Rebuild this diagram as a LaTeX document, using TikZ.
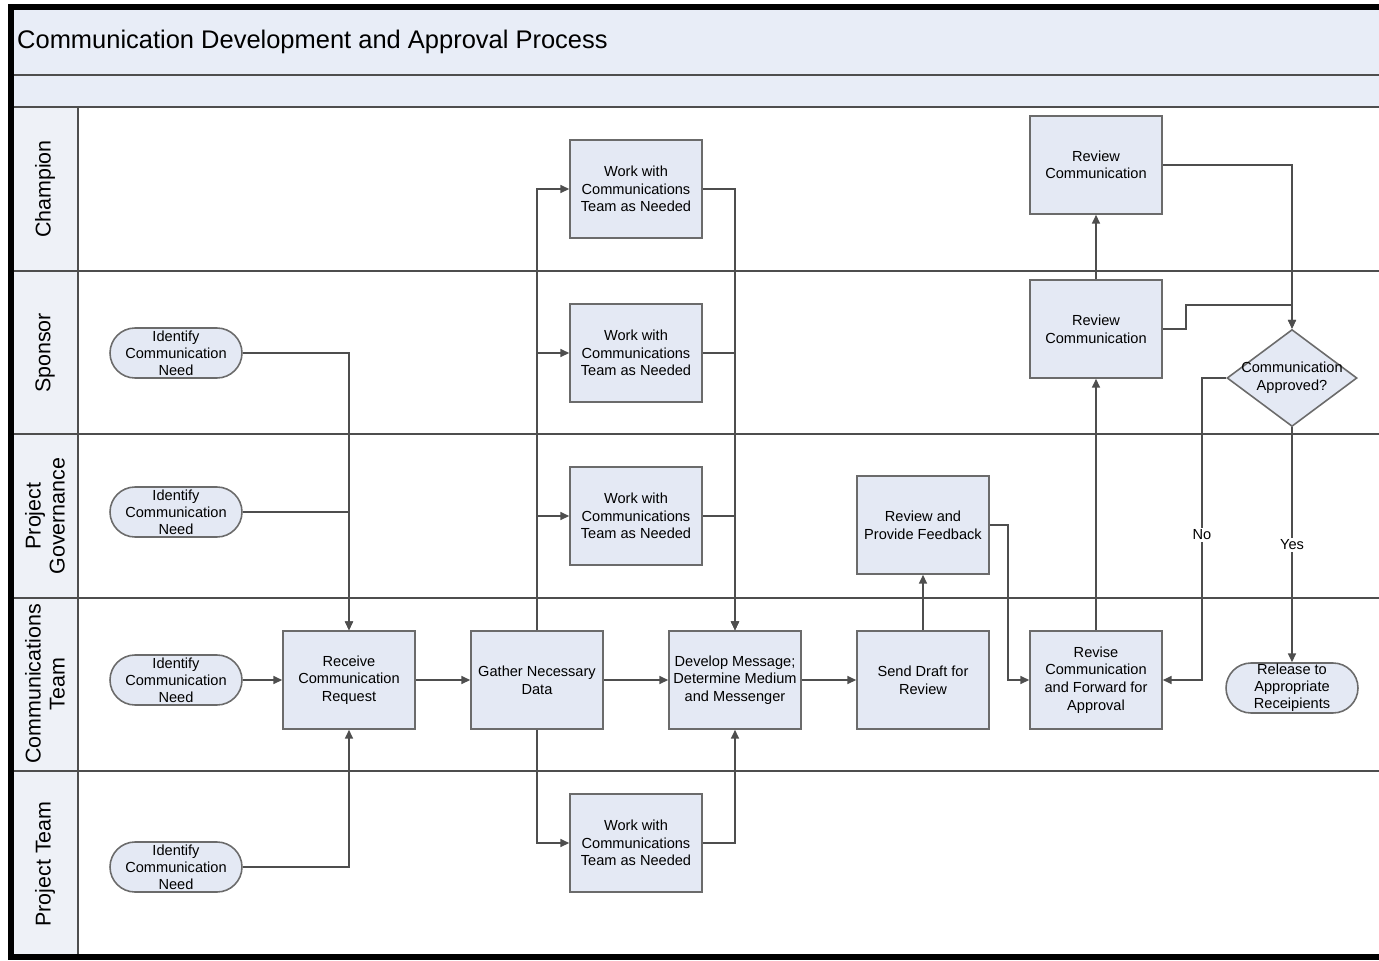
\documentclass[tikz,border=0pt]{standalone}
\usepackage{fontspec}
\setmainfont{Liberation Sans}
\usepackage{xcolor}
\usetikzlibrary{shapes.geometric,arrows.meta}

\definecolor{bandblue}{HTML}{E8EDF7}
\definecolor{boxblue}{HTML}{E4E9F4}
\definecolor{headgray}{HTML}{EEF1F7}
\definecolor{lanegray}{HTML}{4E4E4E}
\definecolor{edgegray}{HTML}{6B6B6B}

\begin{document}
\begin{tikzpicture}[x=0.02cm,y=-0.02cm,
  task/.style={draw=edgegray,fill=boxblue,line width=0.9pt,minimum width=2.64cm,
    minimum height=1.96cm,inner sep=1pt,align=center,font=\fontsize{8.3}{10}\selectfont},
  term/.style={draw=edgegray,fill=boxblue,line width=0.9pt,rounded corners=0.5cm,
    minimum width=2.64cm,minimum height=1cm,inner sep=0pt,align=center,
    font=\fontsize{8.3}{9.7}\selectfont},
  decision/.style={diamond,draw=edgegray,fill=boxblue,line width=0.9pt,
    minimum width=2.6cm,minimum height=1.94cm,inner sep=0pt},
  flow/.style={draw=lanegray,line width=0.9pt,-{Triangle[length=5pt,width=4.5pt]}},
  lane/.style={rotate=90,align=center,font=\fontsize{12.2}{13.6}\selectfont},
  tag/.style={fill=white,inner sep=1pt,font=\fontsize{8.3}{10}\selectfont}
]
  \useasboundingbox (0,0) rectangle (1379,960);

  \fill[bandblue] (13,9) rectangle (1379,107);
  \fill[headgray] (13,107) rectangle (78,957);
  \draw[lanegray,line width=1.4pt] (13,75) -- (1379,75);
  \draw[lanegray,line width=1.3pt] (13,107) -- (1379,107);
  \foreach \y in {271,434,598,771}
    \draw[lanegray,line width=1.3pt] (13,\y) -- (1379,\y);
  \draw[lanegray,line width=1.3pt] (78,107) -- (78,957);
  \draw[black,line width=3pt] (1379,7) -- (11,7) -- (11,957) -- (1379,957);

  \node[anchor=west,font=\fontsize{14.5}{16}\selectfont] (title) at (11,42)
    {Communication Development and Approval Process};

  \node[lane] (lch) at (45,189) {Champion};
  \node[lane] (lsp) at (45,353) {Sponsor};
  \node[lane] (lgv) at (45,516) {Project\\Governance};
  \node[lane] (lct) at (45,684) {Communications\\Team};
  \node[lane] (lpt) at (45,864) {Project Team};

  \node[term] (sid) at (176,353) {Identify\\Communication\\Need};
  \node[term] (gid) at (176,512) {Identify\\Communication\\Need};
  \node[term] (cid) at (176,680) {Identify\\Communication\\Need};
  \node[term] (pid) at (176,867) {Identify\\Communication\\Need};

  \node[task] (recv) at (349,680) {Receive\\Communication\\Request};
  \node[task] (gather) at (537,680) {Gather Necessary\\Data};
  \node[task] (develop) at (735,680) {Develop Message;\\Determine Medium\\and Messenger};
  \node[task] (wch) at (636,189) {Work with\\Communications\\Team as Needed};
  \node[task] (wsp) at (636,353) {Work with\\Communications\\Team as Needed};
  \node[task] (wgv) at (636,516) {Work with\\Communications\\Team as Needed};
  \node[task] (wpt) at (636,843) {Work with\\Communications\\Team as Needed};
  \node[task] (senddraft) at (923,680) {Send Draft for\\Review};
  \node[task] (feedback) at (923,525) {Review and\\Provide Feedback};
  \node[task] (revise) at (1096,680) {Revise\\Communication\\and Forward for\\Approval};
  \node[task] (revsp) at (1096,329) {Review\\Communication};
  \node[task] (revch) at (1096,165) {Review\\Communication};
  \node[decision,label={[align=center,font=\fontsize{8.3}{10}\selectfont]center:Communication\\Approved?}]
    (approved) at (1292,378) {};
  \node[term] (release) at (1292,688) {Release to\\Appropriate\\Receipients};

  \coordinate (fbturn) at (1008,525);
  \coordinate (spjog) at (1186,305);
  \coordinate (noturn) at (1202,378);

  \draw[flow] (sid.east) -| (recv.north);
  \draw[flow] (gid.east) -| (recv.north);
  \draw[flow] (cid) -- (recv);
  \draw[flow] (pid.east) -| (recv.south);
  \draw[flow] (recv) -- (gather);
  \foreach \w in {wch,wsp,wgv} \draw[flow] (gather.north) |- (\w.west);
  \draw[flow] (gather.south) |- (wpt.west);
  \draw[flow] (gather) -- (develop);
  \foreach \w in {wch,wsp,wgv} \draw[flow] (\w.east) -| (develop.north);
  \draw[flow] (wpt.east) -| (develop.south);
  \draw[flow] (develop) -- (senddraft);
  \draw[flow] (senddraft) -- (feedback);
  \draw[flow] (feedback.east) -- (fbturn) |- (revise.west);
  \draw[flow] (revise) -- (revsp);
  \draw[flow] (revsp) -- (revch);
  \draw[flow] (revch.east) -| (approved.north);
  \draw[flow] (revsp.east) -| (spjog) -| (approved.north);
  \draw[flow] (approved.west) -- (noturn) |- node[tag,pos=0.26] {No} (revise.east);
  \draw[flow] (approved) -- node[tag,pos=0.5] {Yes} (release);
\end{tikzpicture}
\end{document}
